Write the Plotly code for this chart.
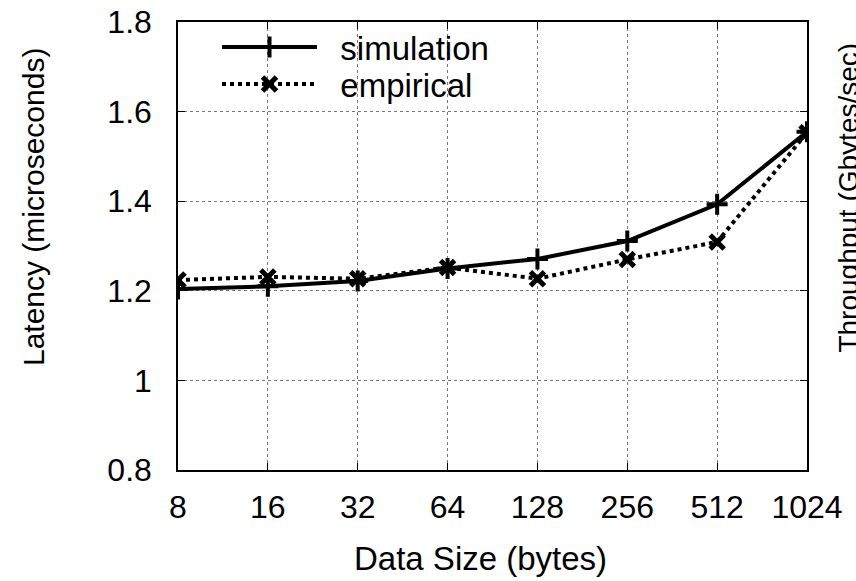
import math
import plotly.graph_objects as go

sizes = [8, 16, 32, 64, 128, 256, 512, 1024]
tick_labels = ["8", "16", "32", "64", "128", "256", "512", "1024"]
simulation = [1.204, 1.210, 1.222, 1.250, 1.271, 1.311, 1.393, 1.555]
empirical = [1.224, 1.231, 1.227, 1.252, 1.227, 1.270, 1.309, 1.553]
y_ticks = [0.8, 1.0, 1.2, 1.4, 1.6, 1.8]
y_tick_labels = ["0.8", "1", "1.2", "1.4", "1.6", "1.8"]

FONT = "Liberation Sans, Arial, Helvetica, sans-serif"
NB = "\u00a0"

fig = go.Figure()
fig.add_trace(go.Scatter(
    x=sizes, y=simulation, name=NB + NB + "simulation", mode="lines+markers",
    legend="legend",
    line=dict(color="black", width=4),
    marker=dict(symbol="cross-thin", size=15, color="black",
                line=dict(color="black", width=4)),
))
fig.add_trace(go.Scatter(
    x=sizes, y=empirical, name=NB + NB + "empirical", mode="lines+markers",
    legend="legend2",
    line=dict(color="black", width=4, dash="dot"),
    marker=dict(symbol="x-thin", size=14, color="black",
                line=dict(color="black", width=5)),
))

axis_common = dict(
    showline=True, linecolor="black", linewidth=1.5, mirror="allticks",
    ticks="inside", ticklen=7, tickcolor="black", tickwidth=1,
    showgrid=True, gridcolor="#777", griddash="dot", gridwidth=1,
    zeroline=False, automargin=False,
    tickfont=dict(family=FONT, size=32, color="black"),
)

fig.update_xaxes(
    type="log", range=[math.log10(sizes[0]), math.log10(sizes[-1])],
    tickvals=sizes, ticktext=tick_labels, ticklabelstandoff=8,
    **axis_common,
)
fig.update_yaxes(
    range=[0.8, 1.8], tickvals=y_ticks, ticktext=y_tick_labels,
    ticklabelstandoff=18, **axis_common,
)

fig.add_annotation(text="Data Size (bytes)", xref="paper", yref="paper",
                   x=0.4817, y=-0.1975, xanchor="center", yanchor="middle",
                   showarrow=False,
                   font=dict(family=FONT, size=33, color="black"))
fig.add_annotation(text="Latency (microseconds)", xref="paper", yref="paper",
                   x=-0.2305, y=0.587, xanchor="center", yanchor="middle",
                   textangle=-90, showarrow=False,
                   font=dict(family=FONT, size=30, color="black"))
fig.add_annotation(text="Throughput (Gbytes/sec)", xref="paper", yref="paper",
                   x=1.038, xanchor="left", y=0.609, yanchor="middle",
                   textangle=-90, showarrow=False,
                   font=dict(family=FONT, size=28, color="black"))

legend_common = dict(
    x=0.062, xanchor="left", yanchor="middle",
    bgcolor="rgba(0,0,0,0)", borderwidth=0,
    font=dict(family=FONT, size=33, color="black"),
    itemwidth=95,
)

fig.update_layout(
    width=856, height=581,
    margin=dict(l=178, r=49, t=22, b=111),
    paper_bgcolor="white", plot_bgcolor="white",
    showlegend=True,
    legend=dict(y=0.944, **legend_common),
    legend2=dict(y=0.8616, **legend_common),
)

fig.write_html("out.html",
               config={"displayModeBar": False},
               post_script="document.body.style.margin='0';"
                           "document.body.style.overflow='hidden';")
